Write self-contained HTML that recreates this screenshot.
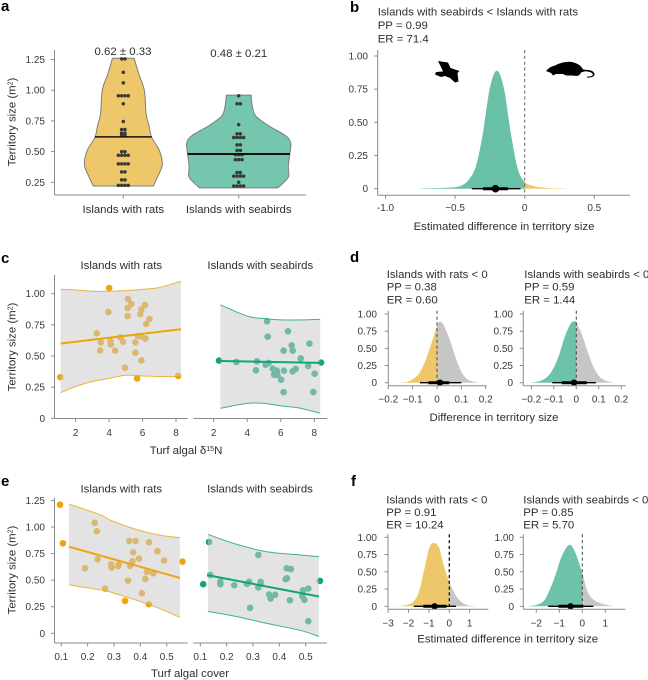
<!DOCTYPE html>
<html lang="en"><head><meta charset="utf-8"><title>Territory size chart</title>
<style>
html,body{margin:0;padding:0;background:#fff}
svg{display:block}
text{font-family:"Liberation Sans",sans-serif;fill:#2e2e2e;font-size:11.4px}
.lab{font-weight:bold;font-size:15px;fill:#000}
.tick{font-size:10px;fill:#3a3a3a}
</style></head><body>
<svg id="fig" xmlns="http://www.w3.org/2000/svg" width="648" height="680" viewBox="0 0 648 680">
<rect width="648" height="680" fill="#fff"/>
<text class="lab" x="1" y="11">a</text>
<text class="lab" x="350" y="12">b</text>
<text class="lab" x="1" y="263">c</text>
<text class="lab" x="350" y="262">d</text>
<text class="lab" x="1" y="486">e</text>
<text class="lab" x="351" y="486">f</text>

<g id="pa">
<text x="123" y="55" text-anchor="middle">0.62 ± 0.33</text>
<text x="238.7" y="57" text-anchor="middle">0.48 ± 0.21</text>
<text x="123.3" y="213" text-anchor="middle">Islands with rats</text>
<text x="238.7" y="213" text-anchor="middle">Islands with seabirds</text>
<text transform="translate(15.5,122) rotate(-90)" text-anchor="middle">Territory size (m<tspan dy="-3" font-size="7">2</tspan><tspan dy="3">)</tspan></text>
</g>
<g id="pb">
<text x="377.7" y="15.6">Islands with seabirds &lt; Islands with rats</text>
<text x="377.7" y="29">PP = 0.99</text>
<text x="377.7" y="42.5">ER = 71.4</text>
<text x="504" y="230" text-anchor="middle">Estimated difference in territory size</text>
<path d="M438 61L448 62.5L450.5 68L459.5 71L457.5 73L458.5 81.5L455 82.5L450 78L445 76L441 77L435 74.5L436 72L443 71.5L441 67Z" fill="#000"/>
<path d="M546 71Q549 67 555 65.5Q562 61.5 570 61.7Q580 63 583 69.5L590 70.2Q595 71.5 594.5 75Q593 78 587 77.5L587 76.6Q592.5 76.6 593 74.5Q592 71.8 585 71.3L581 72.5Q580 75.5 576.5 76L572 75.5L566 75.5L563 74L556 74L553 75.5L551 73Z" fill="#000"/>
</g>
<g id="pc">
<text x="121.3" y="269" text-anchor="middle">Islands with rats</text>
<text x="260.3" y="269" text-anchor="middle">Islands with seabirds</text>
<text x="186" y="454" text-anchor="middle">Turf algal δ<tspan dy="-3" font-size="7">15</tspan><tspan dy="3">N</tspan></text>
<text transform="translate(15.5,347) rotate(-90)" text-anchor="middle">Territory size (m<tspan dy="-3" font-size="7">2</tspan><tspan dy="3">)</tspan></text>
</g>
<g id="pd">
<text x="386.7" y="278">Islands with rats &lt; 0</text>
<text x="386.7" y="290.7">PP = 0.38</text>
<text x="386.7" y="303.3">ER = 0.60</text>
<text x="524.3" y="278">Islands with seabirds &lt; 0</text>
<text x="524.3" y="290.7">PP = 0.59</text>
<text x="524.3" y="303.3">ER = 1.44</text>
<text x="494" y="421" text-anchor="middle">Difference in territory size</text>
</g>
<g id="pe">
<text x="121.3" y="492.7" text-anchor="middle">Islands with rats</text>
<text x="260" y="492.7" text-anchor="middle">Islands with seabirds</text>
<text x="190" y="677" text-anchor="middle">Turf algal cover</text>
<text transform="translate(15.5,570) rotate(-90)" text-anchor="middle">Territory size (m<tspan dy="-3" font-size="7">2</tspan><tspan dy="3">)</tspan></text>
</g>
<g id="pf">
<text x="386.3" y="503.3">Islands with rats &lt; 0</text>
<text x="386.3" y="515.8">PP = 0.91</text>
<text x="386.3" y="528.3">ER = 10.24</text>
<text x="523.3" y="503.3">Islands with seabirds &lt; 0</text>
<text x="523.3" y="515.8">PP = 0.85</text>
<text x="523.3" y="528.3">ER = 5.70</text>
<text x="507.7" y="642.7" text-anchor="middle">Estimated difference in territory size</text>
</g>
</svg>
<script>
// ---- data: panel a ----
const aRatsLevels=[1.26,1.13,1.0,0.81,0.70,0.615,0.51,0.40,0.325,0.22];
const aRatsDensity=[0.27,0.39,0.525,0.57,0.65,0.71,0.90,0.975,0.90,0.75];
const aBirdsLevels=[0.96,0.87,0.79,0.71,0.63,0.57,0.485,0.38,0.30,0.25,0.205];
const aBirdsDensity=[0.31,0.34,0.425,0.75,1.17,1.30,1.28,1.24,1.25,1.13,0.98];
const aRatsDotValues=[1.255,1.145,1.06,0.955,0.89,0.745,0.68,0.65,0.635,0.50,0.47,0.40,0.335,0.27,0.225];
const aRatsDotCounts=[2,1,1,4,1,1,2,2,2,2,4,4,2,2,4];
const aBirdsDotValues=[0.955,0.89,0.72,0.645,0.615,0.555,0.51,0.475,0.435,0.33,0.30,0.25,0.22];
const aBirdsDotCounts=[1,2,1,2,4,2,2,3,3,2,4,1,4];
const aMeans=[0.62,0.48];
const aTicks=[0.25,0.5,0.75,1,1.25];
const aTickLabels=['0.25','0.50','0.75','1.00','1.25'];
// ---- data: panel b ----
const bX=[-0.75,-0.7,-0.65,-0.6,-0.55,-0.5,-0.45,-0.4,-0.35,-0.3,-0.25,-0.2,-0.15,-0.1,-0.05,0,0.05,0.1,0.15,0.2,0.25,0.3];
const bY=[0.002,0.003,0.004,0.005,0.008,0.012,0.025,0.07,0.17,0.42,0.76,0.89,0.76,0.42,0.15,0.05,0.025,0.012,0.007,0.004,0.002,0.001];
const bInterval=[-0.38,-0.3,-0.21,-0.12,-0.03];
const bXTicks=[-1,-0.5,0,0.5];
const bXLabels=['-1.0','−0.5','0','0.5'];
const densTicks=[0,0.25,0.5,0.75,1];
const densLabels=['0','0.25','0.50','0.75','1.00'];
// ---- data: panel c ----
const cRatsX=[4.0,1.08,5.67,8.13,5.13,5.33,5.11,5.11,3.96,5.93,6.15,5.87,6.41,6.21,3.26,3.5,3.46,4.08,4.1,4.36,4.67,4.83,5.57,5.57,5.73,5.93,6.17,5.93,4.95];
const cRatsY=[1.045,0.33,0.32,0.34,0.957,0.917,0.885,0.82,0.853,0.874,0.91,0.837,0.797,0.757,0.682,0.61,0.545,0.62,0.594,0.543,0.65,0.615,0.61,0.527,0.66,0.655,0.64,0.465,0.406];
const cBirdsX=[2.32,8.4,3.35,4.58,4.52,5.1,5.28,5.52,5.76,5.6,5.76,5.8,6.19,6.02,6.17,5.18,5.22,6.43,6.65,6.17,6.71,7.19,7.71,7.63,8.02,7.94,6.71,6.89];
const cBirdsY=[0.463,0.447,0.452,0.457,0.385,0.43,0.444,0.398,0.382,0.35,0.372,0.348,0.382,0.31,0.21,0.778,0.655,0.698,0.585,0.543,0.543,0.481,0.6,0.42,0.358,0.211,0.377,0.396];
const cRatsBandX=[1.1,2,3,4,5,6,7,8.3];
const cRatsBandUpper=[1.035,1.03,1.02,1.02,1.025,1.035,1.05,1.10];
const cRatsBandLower=[0.205,0.255,0.295,0.32,0.345,0.34,0.335,0.335];
const cRatsLineX=[1.1,8.3];
const cRatsLineY=[0.60,0.715];
const cBirdsBandX=[2.4,4,5,6,7.2,8.35];
const cBirdsBandUpper=[0.91,0.82,0.80,0.79,0.79,0.795];
const cBirdsBandLower=[0.08,0.12,0.12,0.10,0.08,0.04];
const cBirdsLineX=[2.4,8.35];
const cBirdsLineY=[0.46,0.445];
const cXTicks=[2,4,6,8];
const cYTicks=[0,0.25,0.5,0.75,1];
const cYLabels=['0','0.25','0.50','0.75','1.00'];
// ---- data: panel d ----
const dRatsX=[-0.15,-0.125,-0.1,-0.075,-0.05,-0.025,0,0.01,0.025,0.05,0.075,0.1,0.125,0.15,0.17];
const dRatsY=[0.002,0.01,0.05,0.13,0.3,0.55,0.82,0.885,0.85,0.65,0.38,0.16,0.05,0.015,0.003];
const dBirdsX=[-0.2,-0.175,-0.15,-0.125,-0.1,-0.075,-0.05,-0.025,-0.01,0,0.025,0.05,0.075,0.1,0.125,0.15,0.165];
const dBirdsY=[0.003,0.012,0.04,0.1,0.22,0.42,0.68,0.86,0.89,0.88,0.7,0.46,0.24,0.1,0.04,0.012,0.002];
const dRatsInterval=[-0.07,-0.035,0.012,0.05,0.1];
const dBirdsInterval=[-0.107,-0.065,-0.01,0.046,0.087];
const dXTicks=[-0.2,-0.1,0,0.1,0.2];
const dXLabels=['−0.2','−0.1','0','0.1','0.2'];
// ---- data: panel e ----
const eRatsX=[0.095,0.106,0.56,0.342,0.432,0.227,0.235,0.19,0.238,0.266,0.289,0.291,0.318,0.316,0.361,0.358,0.382,0.373,0.37,0.395,0.433,0.465,0.49,0.353,0.406,0.419,0.425,0.449];
const eRatsY=[1.21,0.847,0.675,0.305,0.274,1.04,0.96,0.612,0.696,0.421,0.649,0.618,0.649,0.63,0.634,0.869,0.869,0.762,0.678,0.703,0.856,0.772,0.684,0.496,0.377,0.512,0.577,0.565];
const eBirdsX=[0.111,0.554,0.133,0.138,0.176,0.176,0.229,0.277,0.285,0.32,0.32,0.329,0.329,0.289,0.361,0.367,0.384,0.428,0.444,0.424,0.429,0.44,0.49,0.51,0.487,0.495,0.51];
const eBirdsY=[0.462,0.493,0.859,0.549,0.484,0.462,0.452,0.465,0.484,0.737,0.433,0.484,0.465,0.239,0.365,0.327,0.362,0.612,0.603,0.509,0.518,0.311,0.405,0.421,0.352,0.315,0.114];
const eRatsBandX=[0.129,0.25,0.29,0.38,0.47,0.55];
const eRatsBandUpper=[1.216,1.113,1.06,0.981,0.925,0.90];
const eRatsBandLower=[0.455,0.408,0.385,0.315,0.236,0.149];
const eRatsLineX=[0.129,0.55];
const eRatsLineY=[0.815,0.521];
const eBirdsBandX=[0.129,0.225,0.35,0.48,0.55];
const eBirdsBandUpper=[0.931,0.847,0.768,0.737,0.721];
const eBirdsBandLower=[0.205,0.164,0.095,0.027,-0.03];
const eBirdsLineX=[0.129,0.55];
const eBirdsLineY=[0.546,0.346];
const eXTicks=[0.1,0.2,0.3,0.4,0.5];
const eXLabels=['0.1','0.2','0.3','0.4','0.5'];
const eYTicks=[0,0.25,0.5,0.75,1,1.25];
const eYLabels=['0','0.25','0.50','0.75','1.00','1.25'];
// ---- data: panel f ----
const fRatsX=[-2.7,-2.4,-1.98,-1.69,-1.44,-1.2,-0.92,-0.54,-0.3,0,0.36,0.77,1.34];
const fRatsY=[0.002,0.006,0.03,0.09,0.26,0.57,0.89,0.875,0.62,0.36,0.14,0.03,0.001];
const fBirdsX=[-2.35,-2,-1.7,-1.48,-1.19,-0.9,-0.57,-0.32,0,0.26,0.62,1.06,1.35];
const fBirdsY=[0.002,0.02,0.07,0.19,0.43,0.72,0.89,0.79,0.48,0.19,0.07,0.02,0.001];
const fRatsInterval=[-1.74,-1.28,-0.72,-0.13,0.33];
const fBirdsInterval=[-1.48,-1.04,-0.51,0.04,0.48];
const fRatsXTicks=[-3,-2,-1,0,1];
const fRatsXLabels=['−3','−2','−1','0','1'];
const fBirdsXTicks=[-2,-1,0,1];
const fBirdsXLabels=['−2','−1','0','1'];

// ---- drawing ----
const NS='http://www.w3.org/2000/svg';
const AX='#8a8a8a',YEL='#efc76b',GRN='#6cc3a9',GRY='#c6c6c6',ORA='#eca50d',TEAL='#10a37c';
function lin(d0,r0,d1,r1){return v=>r0+(v-d0)*(r1-r0)/(d1-d0);}
function mk(parent,tag,attrs,txt){const el=document.createElementNS(NS,tag);for(const k in attrs)el.setAttribute(k,attrs[k]);if(txt!=null)el.textContent=txt;parent.appendChild(el);return el;}
function seg(p){let s='';for(let i=0;i<p.length-1;i++){const a=p[i-1]||p[i],b=p[i],c=p[i+1],d=p[i+2]||c;
  s+='C'+(b[0]+(c[0]-a[0])/6).toFixed(2)+' '+(b[1]+(c[1]-a[1])/6).toFixed(2)+' '+(c[0]-(d[0]-b[0])/6).toFixed(2)+' '+(c[1]-(d[1]-b[1])/6).toFixed(2)+' '+c[0].toFixed(2)+' '+c[1].toFixed(2);}return s;}
function curve(xs,ys,sx,sy){return xs.map((x,i)=>[sx(x),sy(ys[i])]);}

function yAxis(g,x,top,bottom,sy,ticks,labels,labelX,key){
  const l=mk(g,'line',{x1:x,x2:x,y1:top,y2:bottom,stroke:AX,'stroke-width':1});
  
  
  ticks.forEach((t,i)=>{
    const m=mk(g,'line',{x1:x-3.5,x2:x,y1:sy(t),y2:sy(t),stroke:AX,'stroke-width':1});
    
    
    const tx=mk(g,'text',{x:labelX,y:sy(t)+3.5,'text-anchor':'end','class':'tick'},labels[i]);
    
    
  });
}
function xAxis(g,y,x0,x1,sx,ticks,labels,labelY,key){
  const l=mk(g,'line',{x1:x0,x2:x1,y1:y,y2:y,stroke:AX,'stroke-width':1});
  
  
  ticks.forEach((t,i)=>{
    const m=mk(g,'line',{x1:sx(t),x2:sx(t),y1:y,y2:y+3.5,stroke:AX,'stroke-width':1});
    
    
    const tx=mk(g,'text',{x:sx(t),y:labelY,'text-anchor':'middle','class':'tick'},labels[i]);
    
    
  });
}
function violin(g,cx,levels,dens,sy,fill,key){
  const wd=lin(0,0,1,40);
  const r=levels.map((v,i)=>[cx+wd(dens[i]),sy(v)]);
  const lft=levels.map((v,i)=>[cx-wd(dens[i]),sy(v)]).reverse();
  const d='M'+lft[lft.length-1][0]+' '+lft[lft.length-1][1]+'L'+r[0][0]+' '+r[0][1]+seg(r)+'L'+lft[0][0]+' '+lft[0][1]+seg(lft)+'Z';
  const p=mk(g,'path',{d:d,fill:fill,stroke:'#7d7d7d','stroke-width':1});
  
  
}
function dots(g,cx,vals,counts,sy,key){
  vals.forEach((v,i)=>{for(let k=0;k<counts[i];k++){
    const c=mk(g,'circle',{cx:cx+(k-(counts[i]-1)/2)*3.3,cy:sy(v),r:1.75,fill:'#3a3a30'});
    
    
  }});
}
function meanBar(g,cx,v,dens,levels,sy,w,key){
  let hw=0,best=9;levels.forEach((l,i)=>{if(Math.abs(l-v)<best){best=Math.abs(l-v);hw=dens[i]*40;}});
  const l=mk(g,'line',{x1:cx-hw,x2:cx+hw,y1:sy(v),y2:sy(v),stroke:'#111','stroke-width':w});
  
  
}
let clipN=0;
function density(g,xs,ys,sx,sy,colL,colR,key){
  const p=curve(xs,ys,sx,sy),b=sy(0);
  const d='M'+p[0][0]+' '+b+'L'+p[0][0]+' '+p[0][1]+seg(p)+'L'+p[p.length-1][0]+' '+b+'Z';
  const defs=mk(g,'defs',{});
  [['L',0,sx(0)],['R',sx(0),648]].forEach(a=>{
    const id='clip'+(clipN++);
    const cp=mk(defs,'clipPath',{id:id});
    mk(cp,'rect',{x:a[1],y:0,width:a[2]-a[1],height:680});
    const s=mk(g,'path',{d:d,fill:a[0]==='L'?colL:colR,'clip-path':'url(#'+id+')'});
    
    
  });
}
function interval(g,iv,sx,y,r,key){
  const t=mk(g,'line',{x1:sx(iv[0]),x2:sx(iv[4]),y1:y,y2:y,stroke:'#000','stroke-width':1.3});
  
  
  const w=mk(g,'line',{x1:sx(iv[1]),x2:sx(iv[3]),y1:y,y2:y,stroke:'#000','stroke-width':3});
  
  
  const c=mk(g,'circle',{cx:sx(iv[2]),cy:y,r:r,fill:'#000'});
  
  
}
function zeroLine(g,x,top,bottom,w,col,key){
  const l=mk(g,'line',{x1:x,x2:x,y1:top,y2:bottom,stroke:col,'stroke-width':w,'stroke-dasharray':'3.2 2.6'});
  
  
}
function scatter(g,px,py,bx,bu,bl,lx,ly,sx,sy,col,edge,key){
  px.forEach((x,i)=>{
    const c=mk(g,'circle',{cx:sx(x),cy:sy(py[i]),r:3.3,fill:col});
    
    
  });
  const up=curve(bx,bu,sx,sy),lo=curve(bx,bl,sx,sy).reverse();
  const d='M'+up[0][0]+' '+up[0][1]+seg(up)+'L'+lo[0][0]+' '+lo[0][1]+seg(lo)+'Z';
  const r=mk(g,'path',{d:d,fill:'#cbcbcb','fill-opacity':0.53});
  
  
  const e1=mk(g,'path',{d:'M'+up[0][0]+' '+up[0][1]+seg(up),fill:'none',stroke:edge,'stroke-width':1,'stroke-opacity':0.8});
  
  
  const e2=mk(g,'path',{d:'M'+lo[0][0]+' '+lo[0][1]+seg(lo),fill:'none',stroke:edge,'stroke-width':1,'stroke-opacity':0.8});
  
  
  const l=mk(g,'line',{x1:sx(lx[0]),x2:sx(lx[1]),y1:sy(ly[0]),y2:sy(ly[1]),stroke:edge,'stroke-width':2});
  
  
}
function fmt(v){return String(v);}

// panel a
(function(){
  const g=document.getElementById('pa'),sy=lin(0.25,182.3,1.25,59.5);
  violin(g,123.3,aRatsLevels,aRatsDensity,sy,YEL,'rats');
  violin(g,238.7,aBirdsLevels,aBirdsDensity,sy,'#74c6ae','seabirds');
  dots(g,123.3,aRatsDotValues,aRatsDotCounts,sy,'rats');
  dots(g,238.7,aBirdsDotValues,aBirdsDotCounts,sy,'seabirds');
  meanBar(g,123.3,aMeans[0],aRatsDensity,aRatsLevels,sy,1.5,'rats');
  meanBar(g,238.7,aMeans[1],aBirdsDensity,aBirdsLevels,sy,2,'seabirds');
  yAxis(g,54.5,50,195,sy,aTicks,aTickLabels,45,'a');
  const l=mk(g,'line',{x1:54.5,x2:306,y1:195,y2:195,stroke:AX,'stroke-width':1});
  
  
  [123.3,238.7].forEach(x=>{
    const t=mk(g,'line',{x1:x,x2:x,y1:195,y2:198.5,stroke:AX,'stroke-width':1});
    
    
  });
})();
// panel b
(function(){
  const g=document.getElementById('pb'),sx=lin(0,524.7,0.5,594.3),sy=lin(0,188.7,1,56);
  density(g,bX,bY,sx,sy,'#68c1a7','#f0c870','b');
  zeroLine(g,sx(0),50,195,1,'#666','b');
  interval(g,bInterval,sx,sy(0),3.8,'b');
  yAxis(g,377.7,50,195.3,sy,densTicks,densLabels,368,'b');
  xAxis(g,195.3,377.7,630,sx,bXTicks,bXLabels,211,'b');
})();
// panel c
(function(){
  const g=document.getElementById('pc'),sy=lin(0,418.3,1,293.7);
  const sl=lin(2,75.7,8,176),sr=lin(2,213.7,8,314.3);
  scatter(g,cRatsX,cRatsY,cRatsBandX,cRatsBandUpper,cRatsBandLower,cRatsLineX,cRatsLineY,sl,sy,ORA,ORA,'c-rats');
  scatter(g,cBirdsX,cBirdsY,cBirdsBandX,cBirdsBandUpper,cBirdsBandLower,cBirdsLineX,cBirdsLineY,sr,sy,TEAL,TEAL,'c-seabirds');
  yAxis(g,54.5,275,418.5,sy,cYTicks,cYLabels,45,'c');
  xAxis(g,418.5,54.5,187.7,sl,cXTicks,cXTicks.map(fmt),436,'c-rats');
  xAxis(g,418.5,193.3,327.3,sr,cXTicks,cXTicks.map(fmt),436,'c-seabirds');
})();
// panel d
(function(){
  const g=document.getElementById('pd'),sy=lin(0,382.7,1,314);
  const sl=lin(-0.2,388.3,0.2,485.7),sr=lin(-0.2,531.3,0.2,621.3);
  density(g,dRatsX,dRatsY,sl,sy,YEL,GRY,'d-rats');
  density(g,dBirdsX,dBirdsY,sr,sy,GRN,GRY,'d-seabirds');
  zeroLine(g,sl(0),310.7,385.7,1,'#444','d-rats');
  zeroLine(g,sr(0),310.7,385.7,1,'#444','d-seabirds');
  interval(g,dRatsInterval,sl,sy(0),3.2,'d-rats');
  interval(g,dBirdsInterval,sr,sy(0),3.2,'d-seabirds');
  yAxis(g,388.3,310.7,385.7,sy,densTicks,densLabels,377,'d-rats');
  yAxis(g,523.3,310.7,385.7,sy,densTicks,densLabels,513,'d-seabirds');
  xAxis(g,385.7,388.3,486.7,sl,dXTicks,dXLabels,402.7,'d-rats');
  xAxis(g,385.7,523.3,625.7,sr,dXTicks,dXLabels,402.7,'d-seabirds');
})();
// panel e
(function(){
  const g=document.getElementById('pe'),sy=lin(0,633.3,1,527);
  const sl=lin(0.1,61.3,0.5,166.7),sr=lin(0.1,200.3,0.5,305.7);
  scatter(g,eRatsX,eRatsY,eRatsBandX,eRatsBandUpper,eRatsBandLower,eRatsLineX,eRatsLineY,sl,sy,ORA,ORA,'e-rats');
  scatter(g,eBirdsX,eBirdsY,eBirdsBandX,eBirdsBandUpper,eBirdsBandLower,eBirdsLineX,eBirdsLineY,sr,sy,TEAL,TEAL,'e-seabirds');
  yAxis(g,54.5,497.7,643,sy,eYTicks,eYLabels,45,'e');
  xAxis(g,643,54.5,187.7,sl,eXTicks,eXLabels,660,'e-rats');
  xAxis(g,643,193.3,326.7,sr,eXTicks,eXLabels,660,'e-seabirds');
})();
// panel f
(function(){
  const g=document.getElementById('pf'),sy=lin(0,606.3,1,537.3);
  const sl=lin(0,449.3,1,469.7),sr=lin(0,582.3,1,605.3);
  density(g,fRatsX,fRatsY,sl,sy,YEL,GRY,'f-rats');
  density(g,fBirdsX,fBirdsY,sr,sy,GRN,GRY,'f-seabirds');
  zeroLine(g,sl(0),534.3,609.3,1.3,'#111','f-rats');
  zeroLine(g,sr(0),534.3,609.3,1,'#444','f-seabirds');
  interval(g,fRatsInterval,sl,sy(0),3.2,'f-rats');
  interval(g,fBirdsInterval,sr,sy(0),3.2,'f-seabirds');
  yAxis(g,388,534.3,609.3,sy,densTicks,densLabels,377,'f-rats');
  yAxis(g,523.3,534.3,609.3,sy,densTicks,densLabels,514,'f-seabirds');
  xAxis(g,609.3,388,488.3,sl,fRatsXTicks,fRatsXLabels,626.7,'f-rats');
  xAxis(g,609.3,523.3,625.3,sr,fBirdsXTicks,fBirdsXLabels,626.7,'f-seabirds');
})();
</script>
</body></html>
